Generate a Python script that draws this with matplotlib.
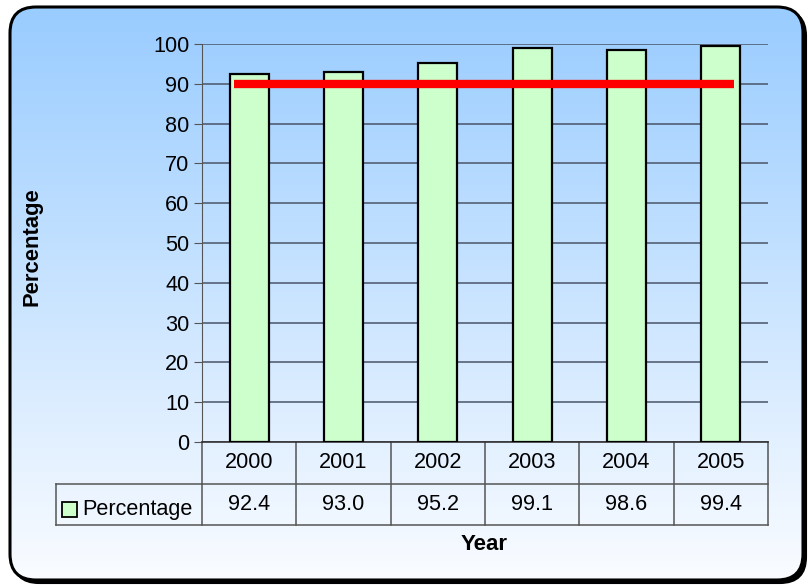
import matplotlib
matplotlib.use('Agg')
import matplotlib.pyplot as plt
import numpy as np
from matplotlib.patches import FancyBboxPatch, Rectangle
from matplotlib.transforms import blended_transform_factory

# ---- data ----
years = ['2000', '2001', '2002', '2003', '2004', '2005']
percentage = [92.4, 93.0, 95.2, 99.1, 98.6, 99.4]
value_labels = ['92.4', '93.0', '95.2', '99.1', '98.6', '99.4']
target = 90
yticks = [0, 10, 20, 30, 40, 50, 60, 70, 80, 90, 100]
series_name = 'Percentage'

plt.rcParams['font.family'] = ['Liberation Sans', 'DejaVu Sans']
FS = 15.6

W, H = 808, 587
fig = plt.figure(figsize=(W / 100, H / 100), dpi=100)
fig.patch.set_facecolor('white')

# ---- background frame ----
bg = fig.add_axes([0, 0, 1, 1])
bg.set_xlim(0, W)
bg.set_ylim(H, 0)
bg.axis('off')
fx0, fy0, fx1, fy1 = 10, 7, 803, 580
rad = 26
shadow = FancyBboxPatch((fx0 + 3, fy0 + 3), fx1 - fx0, fy1 - fy0,
                        boxstyle=f'round,pad=0,rounding_size={rad}',
                        facecolor='black', edgecolor='black', lw=1.5, zorder=0)
bg.add_patch(shadow)
frame = FancyBboxPatch((fx0, fy0), fx1 - fx0, fy1 - fy0,
                       boxstyle=f'round,pad=0,rounding_size={rad}',
                       facecolor='none', edgecolor='black', lw=2.2, zorder=3)
bg.add_patch(frame)
top = np.array([153, 204, 255]) / 255
bot = np.array([250, 252, 255]) / 255
t = np.linspace(0, 1, 256)[:, None]
grad = (top[None, :] * (1 - t) + bot[None, :] * t)[:, None, :]
grad = np.repeat(grad, 2, axis=1)
im = bg.imshow(grad, extent=(fx0, fx1, fy1, fy0), aspect='auto', zorder=1,
               interpolation='bilinear')
clip = FancyBboxPatch((fx0, fy0), fx1 - fx0, fy1 - fy0,
                      boxstyle=f'round,pad=0,rounding_size={rad}',
                      facecolor='none', edgecolor='none', transform=bg.transData)
im.set_clip_path(clip)

# ---- main plot ----
L, R, T, B = 202, 768, 44, 442
ax = fig.add_axes([L / W, (H - B) / H, (R - L) / W, (B - T) / H])
ax.patch.set_visible(False)
x = np.arange(len(years))
ax.set_xlim(-0.5, len(years) - 0.5)
ax.set_ylim(0, 100)
ax.set_yticks(yticks)
ax.set_axisbelow(True)
ax.yaxis.grid(True, color='#4a5568', lw=1.1)
ax.bar(x, percentage, width=0.41, color='#CCFFCC', edgecolor='black', lw=1.6, zorder=3)
ax.plot([-0.16, len(years) - 1 + 0.14], [target, target], color='#FF0000', lw=6,
        solid_capstyle='butt', zorder=4)
ax.set_xticks([])
for s in ['top', 'right']:
    ax.spines[s].set_visible(False)
ax.spines['left'].set_color('#555555')
ax.spines['bottom'].set_color('#333333')
ax.spines['bottom'].set_linewidth(1.2)
ax.tick_params(axis='y', direction='out', length=6, color='#555555', labelsize=FS, pad=3)

# ---- data table ----
tr = blended_transform_factory(ax.transData, ax.transAxes)
ph = B - T
r1 = -(484 - B) / ph
r2 = -(525 - B) / ph
px_per_cat = (R - L) / len(years)
leg_left = -0.5 - (L - 56) / px_per_cat
lc = '#555555'
kw = dict(transform=tr, color=lc, lw=1.1, clip_on=False)
ax.plot([-0.5, len(years) - 0.5], [r1, r1], **kw)
ax.plot([leg_left, -0.5], [r1, r1], **kw)
ax.plot([leg_left, len(years) - 0.5], [r2, r2], **kw)
ax.plot([leg_left, leg_left], [r1, r2], **kw)
for b in np.arange(len(years) + 1) - 0.5:
    ax.plot([b, b], [0, r2], **kw)
for i, (yr, v) in enumerate(zip(years, value_labels)):
    ax.text(i, r1 / 2, yr, transform=tr, ha='center', va='center', fontsize=FS, clip_on=False)
    ax.text(i, (r1 + r2) / 2, v, transform=tr, ha='center', va='center', fontsize=FS, clip_on=False)

# legend key in table
bg.add_patch(Rectangle((62, 502), 15, 15, facecolor='#CCFFCC', edgecolor='black', lw=1.3, zorder=5))
bg.text(82, 509, series_name, ha='left', va='center', fontsize=FS, zorder=5)

# ---- axis labels ----
bg.text(32, 247, 'Percentage', rotation=90, ha='center', va='center',
        fontsize=15.8, fontweight='bold', zorder=5)
bg.text(484, 545, 'Year', ha='center', va='center', fontsize=16, fontweight='bold', zorder=5)

fig.savefig('out.png', dpi=100)
